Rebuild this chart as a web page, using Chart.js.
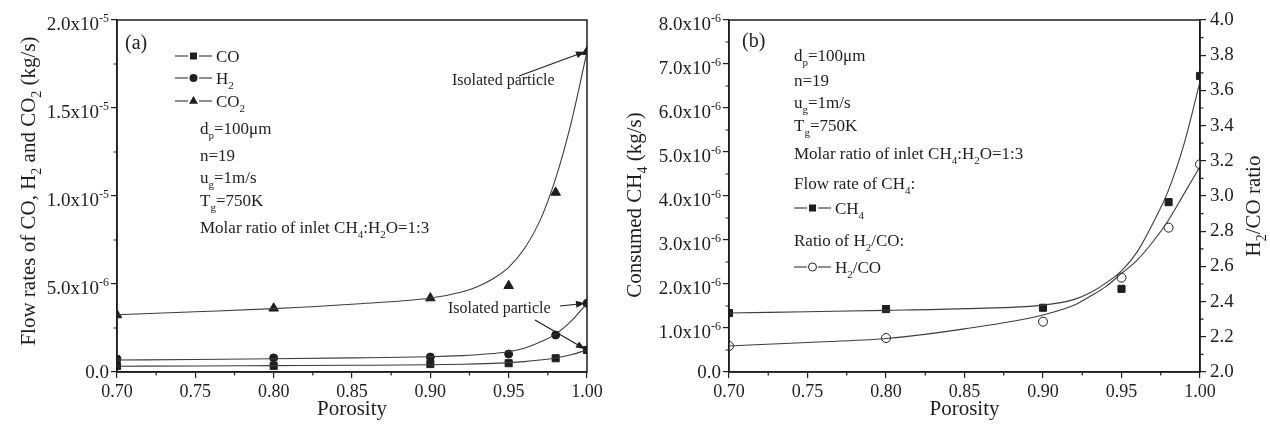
<!DOCTYPE html>
<html>
<head>
<meta charset="utf-8">
<script src="https://cdn.jsdelivr.net/npm/chart.js@4/dist/chart.umd.min.js"></script>
<style>
  body { margin: 0; background: #fff; }
  #wrap { display: flex; width: 1270px; height: 427px; }
</style>
</head>
<body>
<div id="wrap">
  <canvas id="chartA" width="615" height="427"></canvas>
  <canvas id="chartB" width="655" height="427"></canvas>
</div>
<script>
// porosity of the bed, where the simulations were run
const porosity = [0.70, 0.80, 0.90, 0.95, 0.98, 1.00];

// (a) flow rates, in units of 1e-6 kg/s
const coRate  = [0.34, 0.35, 0.45, 0.50, 0.78, 1.25];
const h2Rate  = [0.74, 0.80, 0.85, 1.02, 2.10, 3.90];
const co2Rate = [3.24, 3.62, 4.20, 4.90, 10.2, 18.2];

// (b) consumed CH4 (1e-6 kg/s) and H2/CO ratio
const ch4Consumed = [1.34, 1.43, 1.46, 1.89, 3.86, 6.73];
const h2coRatio   = [2.148, 2.193, 2.286, 2.536, 2.82, 3.18];

// fitted curves
const fitPorosity = [0.70, 0.75, 0.80, 0.85, 0.90, 0.92, 0.93, 0.94, 0.95, 0.96, 0.97, 0.98, 0.99, 1.00];
const coFit    = [0.33, 0.34, 0.36, 0.38, 0.41, 0.44, 0.46, 0.49, 0.53, 0.59, 0.68, 0.80, 0.98, 1.25];
const h2Fit    = [0.68, 0.71, 0.75, 0.80, 0.87, 0.93, 0.98, 1.05, 1.15, 1.35, 1.70, 2.15, 2.90, 3.90];
const co2Fit   = [3.25, 3.42, 3.60, 3.85, 4.20, 4.55, 4.85, 5.30, 5.95, 7.00, 8.60, 11.0, 14.2, 18.2];
const ch4Fit   = [1.34, 1.37, 1.40, 1.44, 1.52, 1.65, 1.80, 2.02, 2.30, 2.73, 3.38, 4.14, 5.20, 6.60];
const ratioFit = [2.148, 2.168, 2.19, 2.245, 2.324, 2.38, 2.43, 2.485, 2.56, 2.636, 2.74, 2.864, 3.015, 3.167];

const FONT = '"Liberation Serif", "Times New Roman", serif';
const INK = '#1e1e1e';
const CURVE = '#3c3c3c';

function pts(xs, ys) {
  return xs.map((x, i) => ({ x: x, y: ys[i] }));
}

function markers(ys, style, r, fill, axis) {
  return {
    data: pts(porosity, ys), showLine: false, yAxisID: axis || 'y',
    pointStyle: style, pointRadius: r, pointHoverRadius: r,
    pointBackgroundColor: fill, pointBorderColor: INK, pointBorderWidth: 1
  };
}

function fitLine(ys, axis) {
  return {
    data: pts(fitPorosity, ys), showLine: true, yAxisID: axis || 'y',
    borderColor: CURVE, borderWidth: 1.1, pointRadius: 0, pointHoverRadius: 0,
    cubicInterpolationMode: 'monotone', fill: false
  };
}

// text with _{sub} and ^{sup}; y is the visual middle of the line
function richText(ctx, str, x, y, size, align) {
  let parts = [];
  let re = /([_^])\{([^}]*)\}/g;
  let last = 0, m;
  while ((m = re.exec(str))) {
    if (m.index > last) parts.push({ t: str.slice(last, m.index), k: 'n' });
    parts.push({ t: m[2], k: m[1] == '_' ? 'sub' : 'sup' });
    last = re.lastIndex;
  }
  if (last < str.length) parts.push({ t: str.slice(last), k: 'n' });

  let small = Math.round(size * 0.65);
  let fontOf = k => (k == 'n' ? size : small) + 'px ' + FONT;
  let total = 0;
  parts.forEach(p => { ctx.font = fontOf(p.k); p.w = ctx.measureText(p.t).width; total += p.w; });

  let cx = align == 'center' ? x - total / 2 : align == 'right' ? x - total : x;
  let base = y + size * 0.33;
  ctx.fillStyle = INK;
  ctx.textAlign = 'left';
  ctx.textBaseline = 'alphabetic';
  parts.forEach(p => {
    ctx.font = fontOf(p.k);
    let dy = p.k == 'sub' ? size * 0.3 : p.k == 'sup' ? -size * 0.45 : 0;
    ctx.fillText(p.t, cx, base + dy);
    cx += p.w;
  });
}

function vertText(ctx, str, x, y, size) {
  ctx.save();
  ctx.translate(x, y);
  ctx.rotate(-Math.PI / 2);
  richText(ctx, str, 0, 0, size, 'center');
  ctx.restore();
}

function drawMarker(ctx, kind, x, y) {
  ctx.fillStyle = INK;
  ctx.strokeStyle = INK;
  ctx.lineWidth = 1;
  ctx.beginPath();
  if (kind == 'rect') {
    ctx.rect(x - 3.5, y - 3.5, 7, 7);
    ctx.fill();
  } else if (kind == 'circle') {
    ctx.arc(x, y, 4, 0, Math.PI * 2);
    ctx.fill();
  } else if (kind == 'triangle') {
    ctx.moveTo(x, y - 5);
    ctx.lineTo(x + 4.5, y + 2.7);
    ctx.lineTo(x - 4.5, y + 2.7);
    ctx.closePath();
    ctx.fill();
  } else {
    ctx.arc(x, y, 4, 0, Math.PI * 2);
    ctx.fillStyle = '#fff';
    ctx.fill();
    ctx.stroke();
  }
}

function legendRow(ctx, x, y, kind, label) {
  ctx.strokeStyle = INK;
  ctx.lineWidth = 1;
  ctx.beginPath();
  ctx.moveTo(x, y); ctx.lineTo(x + 13, y);
  ctx.moveTo(x + 24, y); ctx.lineTo(x + 37, y);
  ctx.stroke();
  drawMarker(ctx, kind, x + 18.5, y);
  richText(ctx, label, x + 41, y, 17, 'left');
}

function arrow(ctx, x1, y1, x2, y2) {
  let a = Math.atan2(y2 - y1, x2 - x1);
  ctx.strokeStyle = INK;
  ctx.fillStyle = INK;
  ctx.lineWidth = 1.2;
  ctx.beginPath();
  ctx.moveTo(x1, y1);
  ctx.lineTo(x2 - 6 * Math.cos(a), y2 - 6 * Math.sin(a));
  ctx.stroke();
  ctx.beginPath();
  ctx.moveTo(x2, y2);
  ctx.lineTo(x2 - 9 * Math.cos(a) + 3.5 * Math.sin(a), y2 - 9 * Math.sin(a) - 3.5 * Math.cos(a));
  ctx.lineTo(x2 - 9 * Math.cos(a) - 3.5 * Math.sin(a), y2 - 9 * Math.sin(a) + 3.5 * Math.cos(a));
  ctx.closePath();
  ctx.fill();
}

function minorTicks(ctx, scale, len) {
  let t = scale.ticks.map(k => k.value);
  ctx.strokeStyle = INK;
  ctx.lineWidth = 1.2;
  ctx.beginPath();
  for (let i = 0; i < t.length - 1; i++) {
    let p = scale.getPixelForValue((t[i] + t[i + 1]) / 2);
    if (scale.isHorizontal()) { ctx.moveTo(p, scale.top); ctx.lineTo(p, scale.top + len); }
    else if (scale.position == 'left') { ctx.moveTo(scale.right, p); ctx.lineTo(scale.right - len, p); }
    else { ctx.moveTo(scale.left, p); ctx.lineTo(scale.left + len, p); }
  }
  ctx.stroke();
}

// y labels like 1.5x10^-5, values are in 1e-6 units
function sciLabels(ctx, scale, size) {
  scale.ticks.forEach(k => {
    let v = k.value;
    let y = scale.getPixelForValue(v);
    let txt;
    if (v == 0) {
      txt = '0.0';
    } else {
      let e = Math.floor(Math.log10(v) + 1e-9);
      txt = (v / Math.pow(10, e)).toFixed(1) + 'x10^{' + (e - 6) + '}';
    }
    richText(ctx, txt, scale.right - 8, y + (v == 0 ? 0 : 4), size, 'right');
  });
}

function xAxis() {
  return {
    type: 'linear', min: 0.7, max: 1.0,
    ticks: { stepSize: 0.05, callback: v => v.toFixed(2), font: { family: FONT, size: 18 }, color: INK, padding: 3, maxRotation: 0, autoSkip: false },
    grid: { drawOnChartArea: false, tickLength: 6, color: INK, lineWidth: 1.2 },
    border: { color: INK, width: 1.5 },
    title: { display: true, text: 'Porosity', font: { family: FONT, size: 21 }, color: INK, padding: { top: 0, bottom: 5 } },
    afterFit: s => { s.height = 55; }
  };
}

function frame(ctx, area) {
  ctx.strokeStyle = INK;
  ctx.lineWidth = 1.5;
  ctx.strokeRect(area.left, area.top, area.right - area.left, area.bottom - area.top);
}

Chart.defaults.font.family = FONT;
Chart.defaults.color = INK;

// ---------- panel (a) ----------
const decorA = {
  id: 'decorA',
  afterDraw(chart) {
    let ctx = chart.ctx, sx = chart.scales.x, sy = chart.scales.y;
    ctx.save();
    frame(ctx, chart.chartArea);
    minorTicks(ctx, sx, 3.5);
    minorTicks(ctx, sy, 3.5);
    sciLabels(ctx, sy, 19);
    vertText(ctx, 'Flow rates of CO, H_{2} and CO_{2} (kg/s)', 28, 191, 21);

    richText(ctx, '(a)', 125, 42, 20, 'left');
    legendRow(ctx, 175, 56, 'rect', 'CO');
    legendRow(ctx, 175, 78, 'circle', 'H_{2}');
    legendRow(ctx, 175, 101, 'triangle', 'CO_{2}');

    richText(ctx, 'd_{p}=100\u03bcm', 200, 128, 17, 'left');
    richText(ctx, 'n=19', 200, 155, 17, 'left');
    richText(ctx, 'u_{g}=1m/s', 200, 177, 17, 'left');
    richText(ctx, 'T_{g}=750K', 200, 200, 17, 'left');
    richText(ctx, 'Molar ratio of inlet CH_{4}:H_{2}O=1:3', 200, 227, 17, 'left');

    let x1 = sx.getPixelForValue(1.0) - 2;
    richText(ctx, 'Isolated particle', 452, 80, 16, 'left');
    arrow(ctx, 519, 76, x1, sy.getPixelForValue(co2Rate[5]));
    richText(ctx, 'Isolated particle', 448, 308, 16, 'left');
    arrow(ctx, 560, 306, x1, sy.getPixelForValue(h2Rate[5]));
    arrow(ctx, 535, 320, x1, sy.getPixelForValue(coRate[5]) - 1);
    ctx.restore();
  }
};

new Chart(document.getElementById('chartA'), {
  type: 'scatter',
  data: {
    datasets: [
      fitLine(coFit), fitLine(h2Fit), fitLine(co2Fit),
      markers(coRate, 'rect', 5, INK),
      markers(h2Rate, 'circle', 4, INK),
      markers(co2Rate, 'triangle', 5.5, INK)
    ]
  },
  options: {
    responsive: false, animation: false,
    layout: { padding: { top: 20, right: 28, left: 0, bottom: 0 } },
    plugins: { legend: { display: false }, tooltip: { enabled: false } },
    scales: {
      x: xAxis(),
      y: {
        type: 'linear', position: 'left', min: 0, max: 20,
        ticks: { stepSize: 5, display: false },
        grid: { drawOnChartArea: false, tickLength: 6, color: INK, lineWidth: 1.2 },
        border: { color: INK, width: 1.5 },
        afterFit: s => { s.width = 117; }
      }
    }
  },
  plugins: [decorA]
});

// ---------- panel (b) ----------
const decorB = {
  id: 'decorB',
  afterDraw(chart) {
    let ctx = chart.ctx, sx = chart.scales.x, sy = chart.scales.y, sr = chart.scales.y2;
    ctx.save();
    frame(ctx, chart.chartArea);
    minorTicks(ctx, sx, 3.5);
    minorTicks(ctx, sy, 3.5);
    minorTicks(ctx, sr, 3.5);
    sciLabels(ctx, sy, 19);
    vertText(ctx, 'Consumed CH_{4} (kg/s)', 19, 205, 21);
    vertText(ctx, 'H_{2}/CO ratio', 638, 206, 21);

    richText(ctx, '(b)', 127, 40, 20, 'left');
    let tx = 179;
    richText(ctx, 'd_{p}=100\u03bcm', tx, 55, 17, 'left');
    richText(ctx, 'n=19', tx, 80, 17, 'left');
    richText(ctx, 'u_{g}=1m/s', tx, 102, 17, 'left');
    richText(ctx, 'T_{g}=750K', tx, 125, 17, 'left');
    richText(ctx, 'Molar ratio of inlet CH_{4}:H_{2}O=1:3', tx, 153, 17, 'left');
    richText(ctx, 'Flow rate of CH_{4}:', tx, 183, 17, 'left');
    legendRow(ctx, tx, 208, 'rect', 'CH_{4}');
    richText(ctx, 'Ratio of H_{2}/CO:', tx, 240, 17, 'left');
    legendRow(ctx, tx, 267, 'ocircle', 'H_{2}/CO');
    ctx.restore();
  }
};

new Chart(document.getElementById('chartB'), {
  type: 'scatter',
  data: {
    datasets: [
      fitLine(ch4Fit, 'y'), fitLine(ratioFit, 'y2'),
      markers(ch4Consumed, 'rect', 5, INK, 'y'),
      markers(h2coRatio, 'circle', 4.5, '#fff', 'y2')
    ]
  },
  options: {
    responsive: false, animation: false,
    layout: { padding: { top: 20, right: 0, left: 0, bottom: 0 } },
    plugins: { legend: { display: false }, tooltip: { enabled: false } },
    scales: {
      x: xAxis(),
      y: {
        type: 'linear', position: 'left', min: 0, max: 8,
        ticks: { stepSize: 1, display: false },
        grid: { drawOnChartArea: false, tickLength: 6, color: INK, lineWidth: 1.2 },
        border: { color: INK, width: 1.5 },
        afterFit: s => { s.width = 114; }
      },
      y2: {
        type: 'linear', position: 'right', min: 2, max: 4,
        ticks: { stepSize: 0.2, callback: v => v.toFixed(1), font: { family: FONT, size: 19 }, color: INK, padding: 4 },
        grid: { drawOnChartArea: false, tickLength: 6, color: INK, lineWidth: 1.2 },
        border: { color: INK, width: 1.5 },
        afterFit: s => { s.width = 70; }
      }
    }
  },
  plugins: [decorB]
});
</script>
</body>
</html>
